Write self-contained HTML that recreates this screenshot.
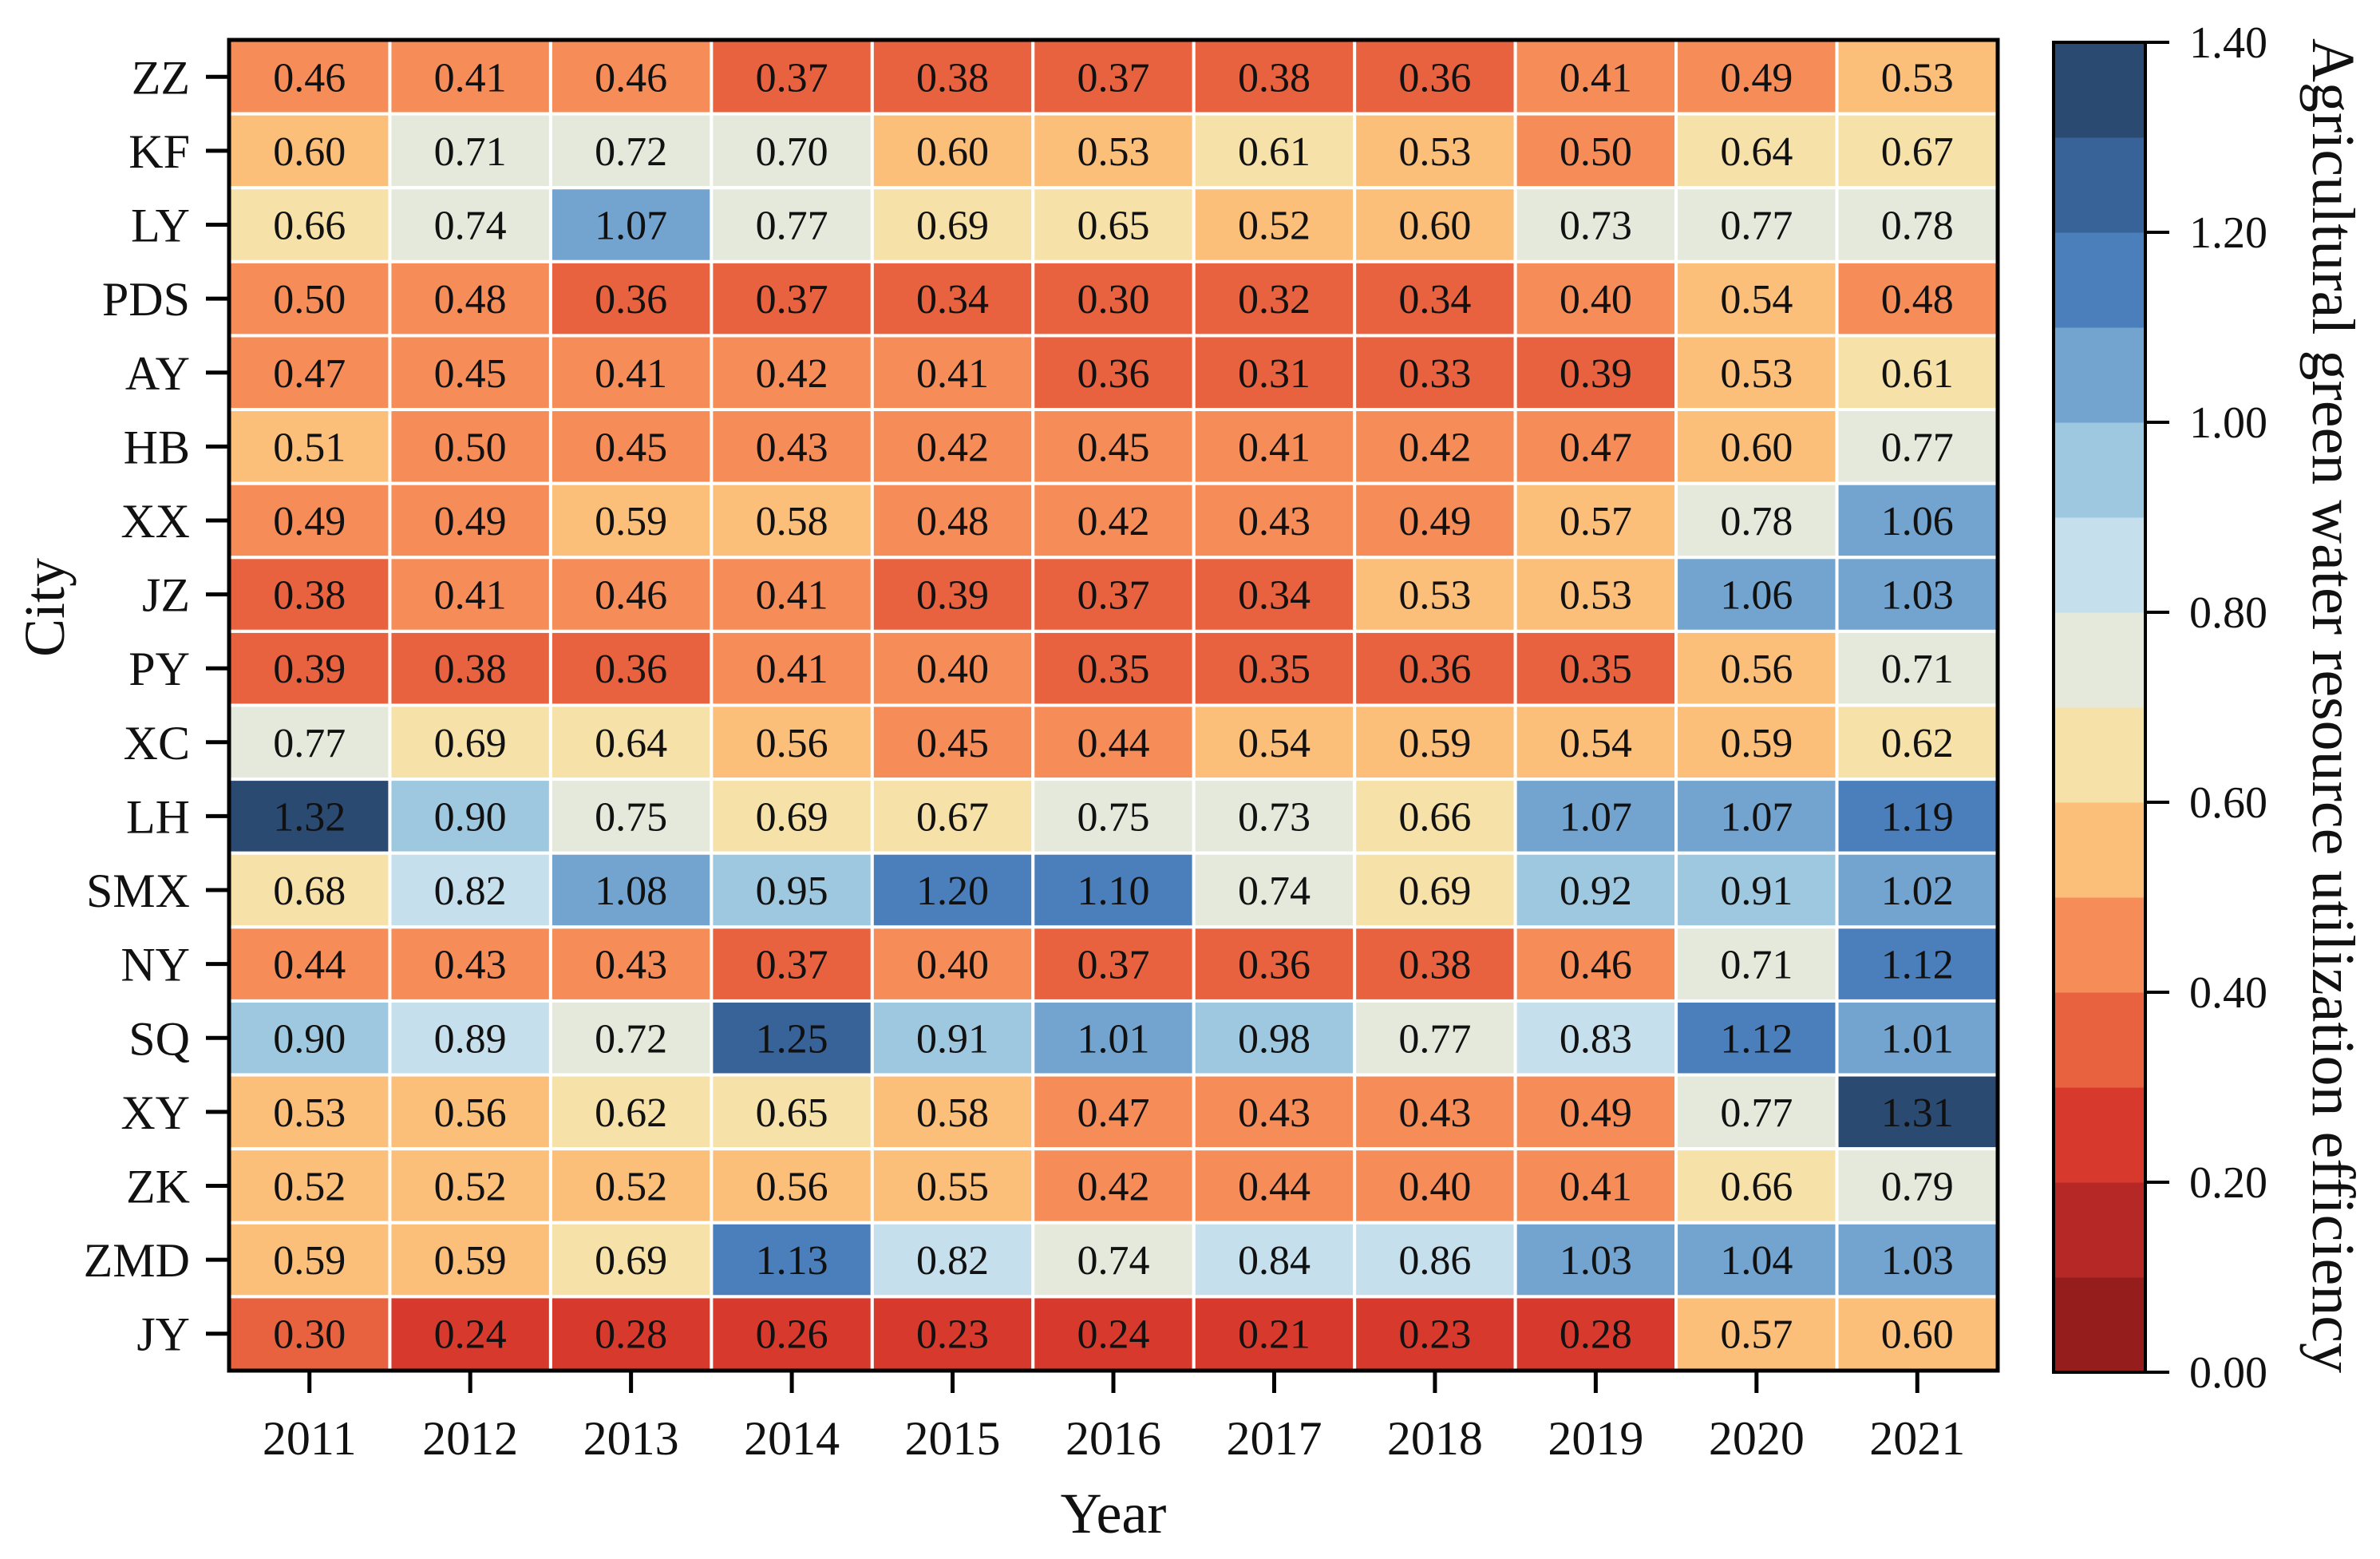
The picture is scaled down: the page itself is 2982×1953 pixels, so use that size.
<!DOCTYPE html>
<html><head><meta charset="utf-8"><style>
html,body{margin:0;padding:0;background:#fff}
svg{display:block}
text{font-family:"Liberation Serif",serif;fill:#111}
</style></head><body>
<svg id="chart" width="2982" height="1953" xmlns="http://www.w3.org/2000/svg">
<g id="cells"></g>
<g id="axes"></g>
<g id="cbar"></g>
</svg>
<script>
const cities=["ZZ","KF","LY","PDS","AY","HB","XX","JZ","PY","XC","LH","SMX","NY","SQ","XY","ZK","ZMD","JY"];
const years=["2011","2012","2013","2014","2015","2016","2017","2018","2019","2020","2021"];
const values=[
[0.46,0.41,0.46,0.37,0.38,0.37,0.38,0.36,0.41,0.49,0.53],
[0.60,0.71,0.72,0.70,0.60,0.53,0.61,0.53,0.50,0.64,0.67],
[0.66,0.74,1.07,0.77,0.69,0.65,0.52,0.60,0.73,0.77,0.78],
[0.50,0.48,0.36,0.37,0.34,0.30,0.32,0.34,0.40,0.54,0.48],
[0.47,0.45,0.41,0.42,0.41,0.36,0.31,0.33,0.39,0.53,0.61],
[0.51,0.50,0.45,0.43,0.42,0.45,0.41,0.42,0.47,0.60,0.77],
[0.49,0.49,0.59,0.58,0.48,0.42,0.43,0.49,0.57,0.78,1.06],
[0.38,0.41,0.46,0.41,0.39,0.37,0.34,0.53,0.53,1.06,1.03],
[0.39,0.38,0.36,0.41,0.40,0.35,0.35,0.36,0.35,0.56,0.71],
[0.77,0.69,0.64,0.56,0.45,0.44,0.54,0.59,0.54,0.59,0.62],
[1.32,0.90,0.75,0.69,0.67,0.75,0.73,0.66,1.07,1.07,1.19],
[0.68,0.82,1.08,0.95,1.20,1.10,0.74,0.69,0.92,0.91,1.02],
[0.44,0.43,0.43,0.37,0.40,0.37,0.36,0.38,0.46,0.71,1.12],
[0.90,0.89,0.72,1.25,0.91,1.01,0.98,0.77,0.83,1.12,1.01],
[0.53,0.56,0.62,0.65,0.58,0.47,0.43,0.43,0.49,0.77,1.31],
[0.52,0.52,0.52,0.56,0.55,0.42,0.44,0.40,0.41,0.66,0.79],
[0.59,0.59,0.69,1.13,0.82,0.74,0.84,0.86,1.03,1.04,1.03],
[0.30,0.24,0.28,0.26,0.23,0.24,0.21,0.23,0.28,0.57,0.60]];
const cbTicks=[0,0.2,0.4,0.6,0.8,1.0,1.2,1.4];
const binEdges=[0.1,0.2,0.3,0.4,0.501,0.601,0.7,0.8,0.9,1.0,1.1,1.201,1.3];
const palette=["#951e1d","#b52825","#d73a2c","#e8623f","#f68d59","#fbbf7a","#f6e2a8","#e4e9dc","#c6dfec","#9ec8df","#72a4cf","#4a7fbb","#386399","#2b4a72"];
const NS="http://www.w3.org/2000/svg";
const L=287,R=2503,T=50,B=1717;
const cw=(R-L)/years.length, ch=(B-T)/cities.length;
const xPos=i=>L+i*cw, yPos=j=>T+j*ch;
const vmin=0,vmax=1.4;
const color=v=>palette[binEdges.filter(e=>v>=e-1e-9).length];
function mk(tag,attrs,parent){const e=document.createElementNS(NS,tag);for(const k in attrs)e.setAttribute(k,attrs[k]);parent.appendChild(e);return e;}
const gc=document.getElementById('cells'),ga=document.getElementById('axes'),gb=document.getElementById('cbar');
values.forEach((row,j)=>row.forEach((v,i)=>{
  const r=mk('rect',{x:xPos(i),y:yPos(j),width:cw,height:ch,fill:color(v),stroke:'#fff','stroke-width':4},gc);
  
  
  const t=mk('text',{x:xPos(i)+cw/2,y:yPos(j)+ch/2+18,'text-anchor':'middle','font-size':52},gc);
  t.textContent=v.toFixed(2);
  
  
}));
const fr=mk('rect',{x:L,y:T,width:R-L,height:B-T,fill:'none',stroke:'#000','stroke-width':5},ga);


cities.forEach((c,j)=>{
  const yc=yPos(j)+ch/2;
  mk('line',{x1:258,x2:L,y1:yc,y2:yc,stroke:'#000','stroke-width':5},ga);
  const t=mk('text',{x:238,y:yc+21,'text-anchor':'end','font-size':60},ga);
  t.textContent=c;
  
  
});
years.forEach((y,i)=>{
  const xc=xPos(i)+cw/2;
  mk('line',{x1:xc,x2:xc,y1:B,y2:B+28,stroke:'#000','stroke-width':5},ga);
  const t=mk('text',{x:xc,y:1822,'text-anchor':'middle','font-size':60},ga);
  t.textContent=y;
  
  
});
let t=mk('text',{x:(L+R)/2,y:1920,'text-anchor':'middle','font-size':72},ga);
t.textContent='Year';


t=mk('text',{x:0,y:0,'text-anchor':'middle','font-size':72,transform:'translate(80,761) rotate(-90)'},ga);
t.textContent='City';


const CL=2573,CR=2688,CT=53,CB=1719;
const cy=v=>CB-(v-vmin)/(vmax-vmin)*(CB-CT);
palette.forEach((p,k)=>{
  const v0=vmin+k*(vmax-vmin)/palette.length,v1=vmin+(k+1)*(vmax-vmin)/palette.length;
  const r=mk('rect',{x:CL,y:cy(v1),width:CR-CL,height:cy(v0)-cy(v1)+0.5,fill:p},gb);
  
  
});
mk('rect',{x:CL,y:CT,width:CR-CL,height:CB-CT,fill:'none',stroke:'#000','stroke-width':4},gb);
cbTicks.forEach(v=>{
  mk('line',{x1:CR,x2:2718,y1:cy(v),y2:cy(v),stroke:'#000','stroke-width':4},gb);
  const tt=mk('text',{x:2743,y:cy(v)+19,'font-size':56},gb);
  tt.textContent=v.toFixed(2);
  
  
});
t=mk('text',{x:0,y:0,'text-anchor':'middle','font-size':76,transform:'translate(2898,884) rotate(90)'},gb);
t.textContent='Agricultural green water resource utilization efficiency';


</script>
</body></html>
